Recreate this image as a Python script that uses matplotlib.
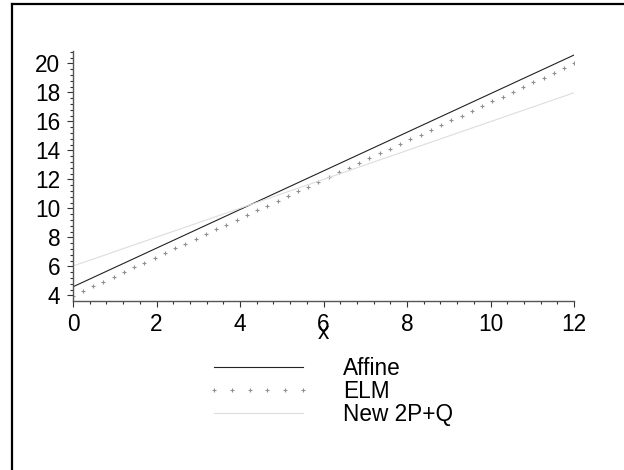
import numpy as np
import matplotlib
matplotlib.use("Agg")
import matplotlib.pyplot as plt
from matplotlib.ticker import MultipleLocator
from matplotlib.lines import Line2D
from matplotlib.transforms import blended_transform_factory

plt.rcParams['font.family'] = ['Liberation Sans', 'DejaVu Sans']

# data
affine_x = [0, 12]
affine_y = [4.59, 20.57]

new_x = [0, 12]
new_y = [6.02, 17.97]

elm_x = [0, 0.24, 0.49, 0.73, 0.98, 1.22, 1.47, 1.71, 1.96, 2.2, 2.45, 2.69,
         2.94, 3.18, 3.43, 3.67, 3.92, 4.16, 4.41, 4.65, 4.9, 5.14, 5.39, 5.63,
         5.88, 6.12, 6.37, 6.61, 6.86, 7.1, 7.35, 7.59, 7.84, 8.08, 8.33, 8.57,
         8.82, 9.06, 9.31, 9.55, 9.8, 10.04, 10.29, 10.53, 10.78, 11.02, 11.27,
         11.51, 11.76, 12]
elm_y = [3.97, 4.30, 4.62, 4.95, 5.28, 5.61, 5.93, 6.26, 6.59, 6.91, 7.24, 7.57,
         7.90, 8.22, 8.55, 8.88, 9.20, 9.53, 9.86, 10.19, 10.51, 10.84, 11.17, 11.50,
         11.82, 12.15, 12.48, 12.80, 13.13, 13.46, 13.79, 14.11, 14.44, 14.77, 15.09, 15.42,
         15.75, 16.08, 16.40, 16.73, 17.06, 17.38, 17.71, 18.04, 18.37, 18.69, 19.02,
         19.35, 19.67, 20.00]

labels = ["Affine", "ELM", "New 2P+Q"]

W, H = 624, 470
fs = 16.3
fig = plt.figure(figsize=(W / 100, H / 100), dpi=100)
ax = fig.add_axes([73 / W, 1 - 300.7 / H, (574 - 73) / W, (300.7 - 50.7) / H])

ax.plot(affine_x, affine_y, color='#222222', lw=0.8, label=labels[0])
ax.plot(elm_x, elm_y, ls='none', marker='+', ms=3.3, mew=0.8, color='#909090', label=labels[1])
ax.plot(new_x, new_y, color='#dddddd', lw=0.8, label=labels[2])

ax.set_xlim(0, 12)
ax.set_ylim(3.63, 20.87)

for s in ['top', 'right']:
    ax.spines[s].set_visible(False)
for s in ['left', 'bottom']:
    ax.spines[s].set_color('#555555')
    ax.spines[s].set_linewidth(1.0)

ax.xaxis.set_major_locator(MultipleLocator(2))
ax.xaxis.set_minor_locator(MultipleLocator(0.4))
ax.yaxis.set_major_locator(MultipleLocator(2))
ax.yaxis.set_minor_locator(MultipleLocator(0.4))
ax.tick_params(which='major', length=4.5, width=0.8, color='#333333', labelsize=fs, pad=4.5)
ax.tick_params(which='minor', length=2.2, width=0.8, color='#333333')

trans = blended_transform_factory(ax.transData, ax.transAxes)
ax.text(6, -0.152, 'x', transform=trans, ha='center', va='baseline', fontsize=fs)

leg = ax.legend(loc='upper left', bbox_to_anchor=(207 / W, 1 - 357 / H),
                bbox_transform=fig.transFigure, frameon=False, fontsize=fs,
                handlelength=4.55, handletextpad=1.45, labelspacing=0.0,
                borderpad=0, borderaxespad=0, numpoints=6)

# page border (left and top)
fig.add_artist(Line2D([11.5 / W, 11.5 / W], [0, 1 - 4 / H], color='black', lw=1.6))
fig.add_artist(Line2D([11.5 / W, 1], [1 - 4 / H, 1 - 4 / H], color='black', lw=1.6))

fig.savefig("out.png", dpi=100)
